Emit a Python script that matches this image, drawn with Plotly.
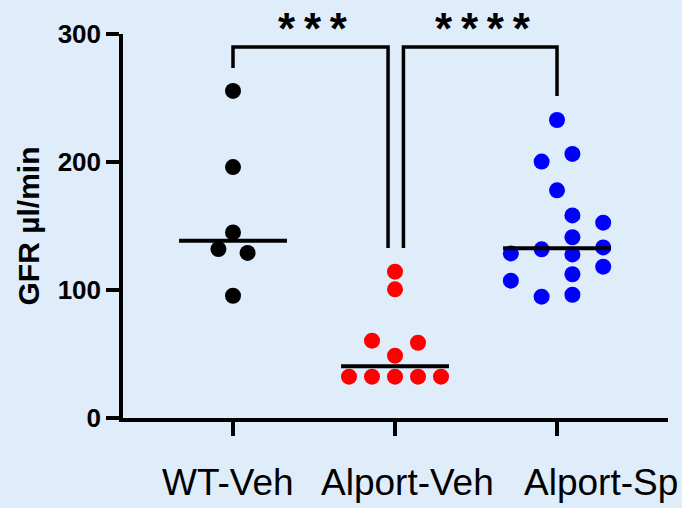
import numpy as np
import plotly.graph_objects as go

# ---- data ----
categories = ["WT-Veh", "Alport-Veh", "Alport-Sp"]
wt_veh = [255.5, 196.0, 145.0, 132.0, 129.0, 95.5]
alport_veh = [114.3, 100.5, 60.4, 58.8, 48.7, 32.3, 32.3, 32.3, 32.3, 32.3]
alport_sp = [232.8, 200.3, 206.3, 177.9, 158.3, 152.6, 141.2, 133.3, 128.6,
             131.8, 127.8, 118.2, 112.3, 107.3, 94.8, 96.3]
y_ticks = [0, 100, 200, 300]
significance = ["***", "****"]

# ---- layout of dots (beeswarm offsets, category units) ----
wt_offsets = [0.0, 0.0, 0.0, -0.09, 0.09, 0.0]
av_offsets = [0.0, 0.0, -0.142, 0.142, 0.0, -0.284, -0.142, 0.0, 0.142, 0.284]
as_offsets = [0.0, -0.095, 0.095, 0.0, 0.095, 0.285, 0.095, 0.285, -0.285,
              -0.095, 0.095, 0.285, 0.095, -0.285, -0.095, 0.095]
# horizontal nudges of category labels (px)
label_shift = [-5, 12, 44]

groups = [wt_veh, alport_veh, alport_sp]
offsets = [wt_offsets, av_offsets, as_offsets]
colors = ["#000000", "#ff0000", "#0000ff"]

BG = "#dfecfa"
FONT = "Liberation Sans, Arial, sans-serif"
Y_MAX = 300

fig = go.Figure()

for i, (vals, offs, col) in enumerate(zip(groups, offsets, colors)):
    fig.add_trace(go.Scatter(
        x=[i + o for o in offs], y=vals, mode="markers",
        marker=dict(size=16, color=col, line=dict(width=0)),
        showlegend=False, hoverinfo="y", cliponaxis=False))

# median lines
half = 0.333
for i, vals in enumerate(groups):
    med = float(np.median(vals))
    fig.add_trace(go.Scatter(
        x=[i - half, i + half], y=[med, med], mode="lines",
        line=dict(color="black", width=4), showlegend=False, hoverinfo="skip"))

# significance brackets
brackets = [
    # (x_left, x_right, y_top, y_left_end, y_right_end, label, label_x)
    (0.0, 0.957, 289.8, 273.4, 132.8, significance[0], 0.494),
    (1.052, 2.0, 289.8, 132.8, 251.6, significance[1], 1.543),
]
for xl, xr, yt, yle, yre, lab, lx in brackets:
    fig.add_trace(go.Scatter(
        x=[xl, xl, xr, xr], y=[yle, yt, yt, yre], mode="lines",
        line=dict(color="black", width=3.5), showlegend=False, hoverinfo="skip",
        cliponaxis=False))
    fig.add_annotation(
        x=lx, y=1.0, xref="x", yref="paper", text="\u2009".join(lab), showarrow=False,
        font=dict(family=FONT, size=44, color="black", weight="bold"),
        xanchor="center", yanchor="middle", yshift=6)

# category labels
for i, (cat, sh) in enumerate(zip(categories, label_shift)):
    fig.add_annotation(
        x=i, y=-0.167, xref="x", yref="paper", text=cat, showarrow=False,
        font=dict(family=FONT, size=37, color="black"),
        xanchor="center", yanchor="middle", xshift=sh)

fig.update_layout(
    width=682, height=508,
    margin=dict(l=123, r=14, t=34, b=90, autoexpand=False),
    paper_bgcolor=BG, plot_bgcolor=BG,
    font=dict(family=FONT, color="black"),
    showlegend=False,
)
fig.update_xaxes(
    range=[-0.679, 2.685], tickmode="array", tickvals=[0, 1, 2], ticktext=categories,
    showticklabels=False,
    showgrid=False, zeroline=False, showline=True, linecolor="black", linewidth=3.5,
    ticks="outside", ticklen=14, tickwidth=3.5, tickcolor="black",
    automargin=False,
)
fig.update_yaxes(
    range=[0, Y_MAX], tickmode="array", tickvals=y_ticks,
    ticktext=[str(t) for t in y_ticks],
    showgrid=False, zeroline=False, showline=True, linecolor="black", linewidth=3.5,
    ticks="outside", ticklen=13, tickwidth=3.5, tickcolor="black",
    tickfont=dict(family=FONT, size=26, color="black", weight="bold"),
    title=dict(text="GFR µl/min", font=dict(family=FONT, size=30, color="black", weight="bold"),
               standoff=10),
    automargin=False,
)

fig.write_html("out.html", config={"displayModeBar": False},
               post_script="document.body.style.margin='0';")
